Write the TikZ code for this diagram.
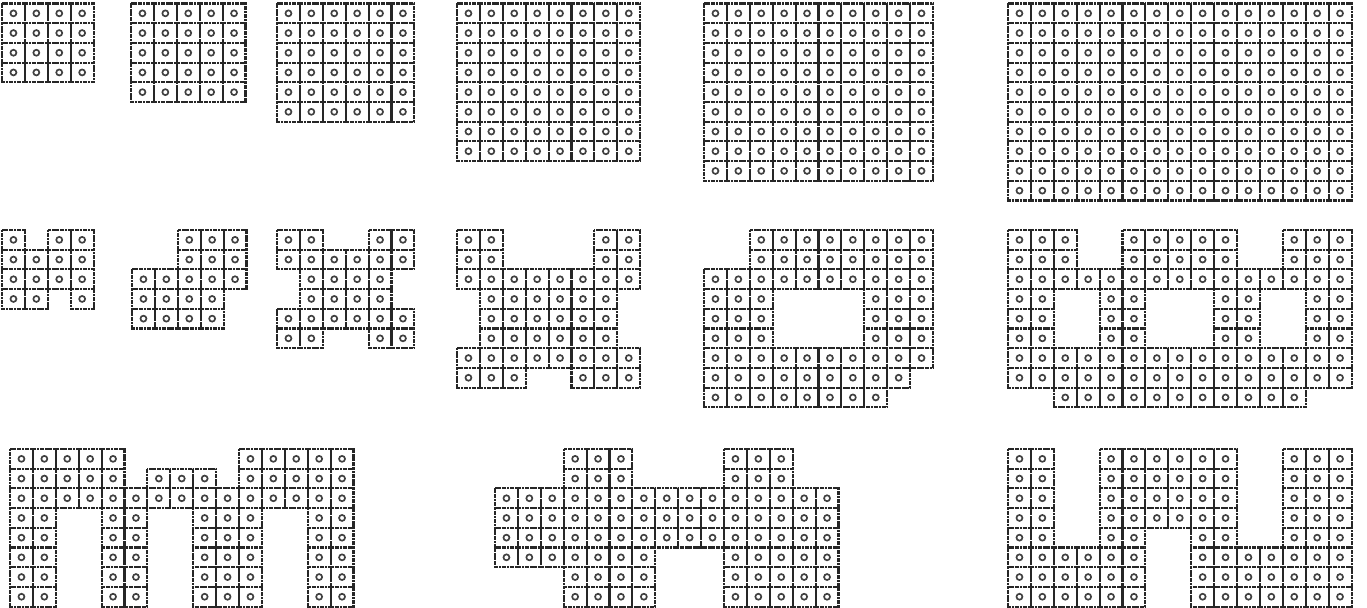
\documentclass[tikz,border=0pt]{standalone}
\usepackage{tikz}

\tikzset{
  cellbox/.style={draw=black!85, line width=1.15pt, dash pattern=on 1.2pt off 0.3pt},
  celldot/.style={draw=black!75, line width=0.95pt},
}
\newcommand{\cellw}{22.9}
\newcommand{\cellh}{19.7}
% one cell with its dot, column and row counted from the block corner
\newcommand{\onecell}[2]{%
  \draw[cellbox] ({(#1)*\cellw},{(#2)*\cellh}) rectangle ++(\cellw,\cellh);
  \draw[celldot] ({(#1+0.5)*\cellw},{(#2+0.5)*\cellh}) circle (1.7pt);}
% block of cells, one list of column runs first/last per row (top to bottom)
\newcommand{\cellblock}[3]{%
  \begin{scope}[shift={(#1,#2)}]
    \foreach \runs [count=\row from 0] in {#3}
      \foreach \first/\last in \runs
        \foreach \col in {\first,...,\last}
          {\onecell{\col}{\row}}
  \end{scope}}
% full rectangular block: x, y, columns, rows
\newcommand{\gridblock}[4]{%
  \begin{scope}[shift={(#1,#2)}]
    \foreach \col in {1,...,#3}
      \foreach \row in {1,...,#4}
        {\onecell{\col-1}{\row-1}}
  \end{scope}}

\begin{document}
\begin{tikzpicture}[x=0.02cm, y=-0.02cm]
  \useasboundingbox (0,0) rectangle (1367,608);

  % Top row: full grids
  \gridblock{2}{3.5}{4}{4}
  \gridblock{131}{3.5}{5}{5}
  \gridblock{277}{3.5}{6}{6}
  \gridblock{457}{3.5}{8}{8}
  \gridblock{704}{3.5}{10}{9}
  \gridblock{1008}{3.5}{15}{10}

  % Middle row
  \cellblock{2}{230}{{0/0,2/3},{0/3},{0/3},{0/1,3/3}}
  \cellblock{132}{230}{{2/4},{2/4},{0/4},{0/3},{0/3}}
  \cellblock{277}{230}{{0/1,4/5},{0/5},{1/4},{1/4},{0/5},{0/1,4/5}}
  \cellblock{457}{230}{{0/1,6/7},{0/1,6/7},{0/7},{1/6},{1/6},{1/6},{0/7},{0/2,5/7}}
  \cellblock{704}{230}{{2/9},{2/9},{0/9},{0/2,7/9},{0/2,7/9},{0/2,7/9},{0/9},{0/8},{0/7}}
  \cellblock{1008}{230}{{0/2,5/9,12/14},{0/2,5/9,12/14},{0/14},
    {0/1,4/5,9/10,13/14},{0/1,4/5,9/10,13/14},{0/1,4/5,9/10,13/14},
    {0/14},{0/14},{2/12}}

  % Bottom row
  \cellblock{10}{449}{{0/4,10/14},{0/4,6/8,10/14},{0/14},
    {0/1,4/5,8/10,13/14},{0/1,4/5,8/10,13/14},{0/1,4/5,8/10,13/14},
    {0/1,4/5,8/10,13/14},{0/1,4/5,8/10,13/14}}
  \cellblock{495}{449}{{3/5,10/12},{3/5,10/12},{0/14},{0/14},{0/14},
    {0/6,10/14},{3/6,10/14},{3/6,10/14}}
  \cellblock{1008}{449}{{0/1,4/9,12/14},{0/1,4/9,12/14},{0/1,4/9,12/14},{0/1,4/9,12/14},
    {0/1,4/5,8/9,12/14},{0/5,8/14},{0/5,8/14},{0/5,8/14}}
\end{tikzpicture}
\end{document}
